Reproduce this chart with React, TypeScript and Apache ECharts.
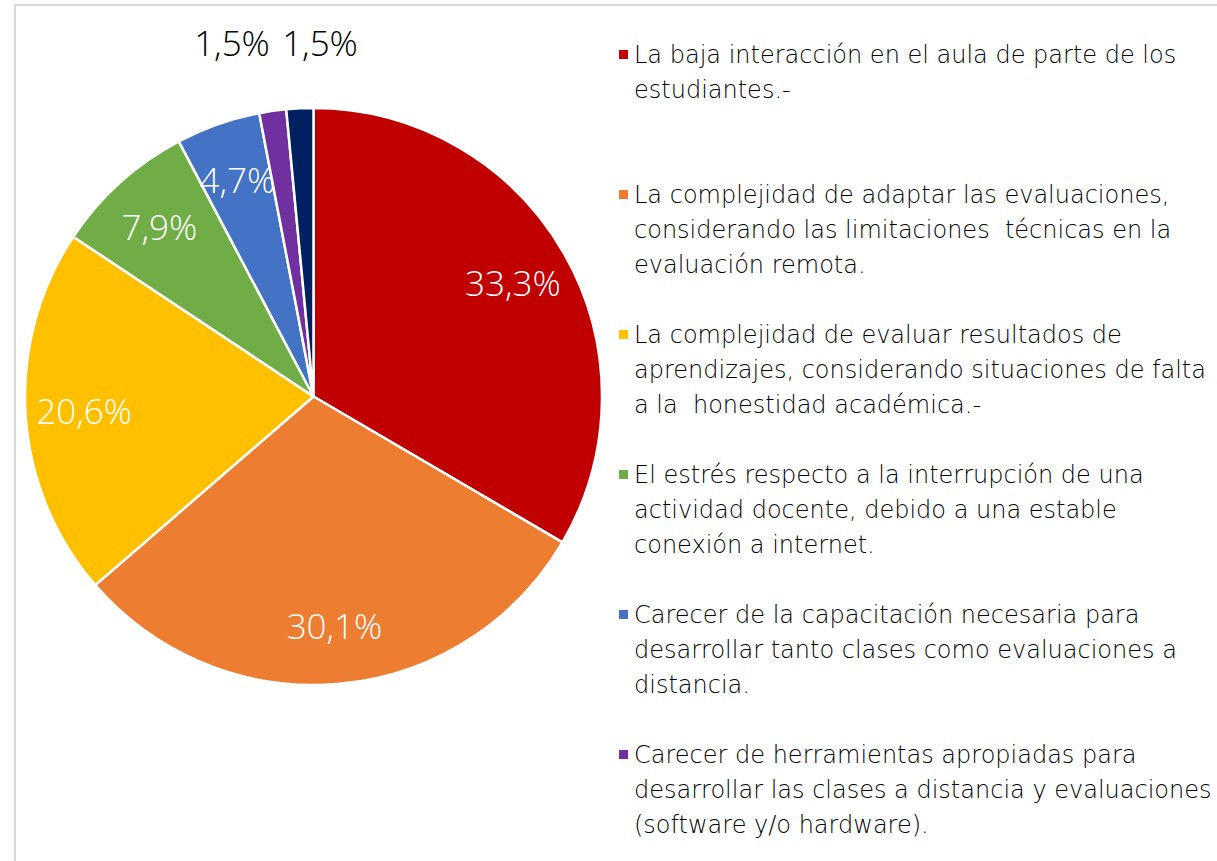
import React, { useEffect, useRef } from "react";
import * as echarts from "echarts";

const categories = [
  "La baja interacción en el aula de parte de los\nestudiantes.-",
  "La complejidad de adaptar las evaluaciones,\nconsiderando las limitaciones  técnicas en la\nevaluación remota.",
  "La complejidad de evaluar resultados de\naprendizajes, considerando situaciones de falta\na la  honestidad académica.-",
  "El estrés respecto a la interrupción de una\nactividad docente, debido a una estable\nconexión a internet.",
  "Carecer de la capacitación necesaria para\ndesarrollar tanto clases como evaluaciones a\ndistancia.",
  "Carecer de herramientas apropiadas para\ndesarrollar las clases a distancia y evaluaciones\n(software y/o hardware).",
  "",
];
const values = [33.3, 30.1, 20.6, 7.9, 4.7, 1.5, 1.5];
const colors = ["#C00000", "#ED7D31", "#FFC000", "#70AD47", "#4472C4", "#7030A0", "#002060"];
const legendCount = 6;

export default function App() {
  const ref = useRef<HTMLDivElement>(null);
  useEffect(() => {
    if (!ref.current) return;
    const chart = echarts.init(ref.current, null, { renderer: "svg" });
    const cx = 313.5;
    const cy = 396.5;
    const r = 288.5;
    const fmt = (v: number) => v.toFixed(1).replace(".", ",") + "%";
    const pieData = categories.map((name, i) => ({
      name,
      value: values[i],
      itemStyle: { color: colors[i] },
    }));
    const labelData = categories.map((name, i) => ({
      name,
      value: values[i],
      label: { color: i >= 5 ? "#000000" : "#ffffff" },
    }));
    const legendData = categories.slice(0, legendCount).map((name, i) => ({
      name,
      icon: "rect",
      itemStyle: { color: colors[i] },
    }));
    chart.setOption({
      animation: false,
      backgroundColor: "#ffffff",
      graphic: [
        {
          type: "rect",
          shape: { x: 15, y: 5, width: 1400, height: 1200 },
          style: { fill: "none", stroke: "#d9d9d9", lineWidth: 2 },
          silent: true,
          z: -10,
        },
      ],
      legend: {
        orient: "vertical",
        left: 617,
        top: -33,
        padding: 0,
        itemWidth: 11,
        itemHeight: 11,
        itemGap: -35,
        selectedMode: false,
        data: legendData,
        // keep the icon level with the first line of each entry
        formatter: (name: string) => {
          const lines = name.split("\n").length;
          return "\n\n" + name + (lines === 2 ? "\n" : "");
        },
        textStyle: {
          fontFamily: "DejaVu Sans",
          fontWeight: 200,
          fontSize: 24,
          lineHeight: 35,
          color: "#000000",
        },
      },
      series: [
        {
          type: "pie",
          center: [cx, cy],
          radius: [0, r],
          startAngle: 90,
          clockwise: true,
          silent: true,
          label: { show: false },
          labelLine: { show: false },
          itemStyle: { borderColor: "#ffffff", borderWidth: 2.5 },
          data: pieData,
        },
        {
          type: "pie",
          center: [cx, cy],
          radius: [165, r],
          startAngle: 90,
          clockwise: true,
          silent: true,
          itemStyle: { color: "rgba(0,0,0,0)", borderWidth: 0 },
          label: {
            show: true,
            position: "inside",
            fontFamily: "Open Sans",
            fontWeight: 300,
            fontSize: 35,
            formatter: (p: any) => fmt(p.value),
          },
          labelLine: { show: false },
          labelLayout: (p: any) => {
            if (p.dataIndex === 5) return { x: 232, y: 42, align: "center", verticalAlign: "middle" };
            if (p.dataIndex === 6) return { x: 320, y: 42, align: "center", verticalAlign: "middle" };
            return {};
          },
          data: labelData,
        },
      ],
    });
    return () => chart.dispose();
  }, []);
  return (
    <div style={{ position: "fixed", left: 0, top: 0, width: 1217, height: 861, overflow: "hidden" }}>
      <div ref={ref} style={{ width: 1217, height: 861 }} />
    </div>
  );
}
